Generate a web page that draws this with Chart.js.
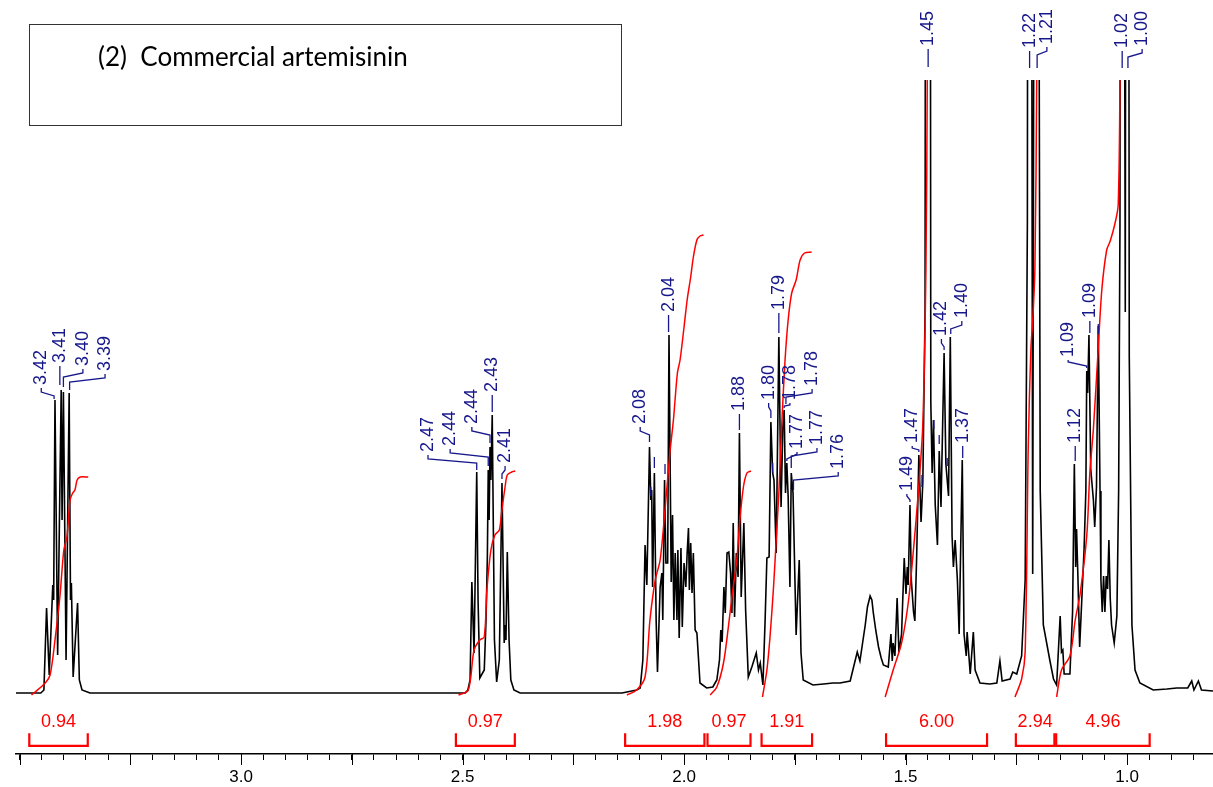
<!DOCTYPE html>
<html><head><meta charset="utf-8">
<script src="https://cdn.jsdelivr.net/npm/chart.js@4/dist/chart.umd.min.js"></script>
<style>html,body{margin:0;padding:0;background:#fff;}canvas{display:block;}</style>
</head><body>
<canvas id="c" width="1213" height="787"></canvas>
<script>
// ---------- DATA ----------
// 1H NMR spectrum: chemical shift (ppm) and intensity (arbitrary units)
const specPpm = [3.508,3.476,3.452,3.445,3.439,3.433,3.425,3.423,3.420,3.414,3.406,3.404,3.401,3.395,3.388,3.385,3.383,3.379,3.369,3.365,3.359,3.341,
3.200,3.000,2.800,2.600,2.510,
2.494,2.488,2.483,2.479,2.474,2.468,2.465,2.461,2.451,2.447,2.444,2.442,2.440,2.438,2.436,2.433,2.428,2.423,2.417,2.411,2.406,2.403,2.402,2.399,2.395,2.391,2.384,2.370,
2.250,2.140,
2.129,2.107,2.099,2.093,2.088,2.084,2.078,2.075,2.073,2.071,2.067,2.063,2.060,2.054,2.050,2.048,2.044,2.041,2.037,2.034,2.029,2.026,2.023,2.020,2.016,2.014,2.011,2.007,2.004,2.000,1.996,1.993,1.990,1.988,1.985,1.982,1.979,1.975,1.971,1.964,1.949,1.935,
1.930,1.926,1.920,1.917,1.914,1.910,1.907,1.903,1.899,1.895,1.892,1.889,1.886,1.882,1.878,1.875,1.871,1.865,1.861,1.855,1.847,1.842,1.837,1.832,1.828,1.822,
1.817,1.813,1.808,1.804,1.800,1.797,1.792,1.786,1.781,1.777,1.774,1.771,1.768,1.765,1.761,1.758,1.754,1.747,1.740,1.736,1.731,1.709,1.685,1.664,1.648,
1.625,1.614,1.609,1.603,1.597,1.591,1.586,1.580,1.576,1.573,1.567,1.561,1.555,1.550,1.539,1.533,1.530,1.528,1.524,1.519,1.515,1.509,1.503,1.499,1.496,1.494,1.490,1.487,1.482,1.479,1.475,1.470,1.465,1.461,1.456,1.453,1.446,1.443,1.440,1.437,1.433,1.428,1.424,1.420,1.413,1.409,1.403,1.399,1.395,1.392,1.388,1.383,1.379,1.372,1.368,1.363,1.361,1.354,1.347,1.343,1.332,1.310,1.294,1.287,1.282,1.264,1.258,1.249,1.238,1.230,1.225,1.223,1.218,1.213,1.207,1.203,1.196,1.189,1.174,
1.166,1.159,1.151,1.148,1.145,1.142,1.129,1.123,1.119,1.116,1.114,1.111,1.107,1.102,1.097,1.093,1.091,1.089,1.086,1.082,1.076,1.073,1.069,1.065,1.061,1.059,1.056,1.053,1.050,1.047,1.044,1.041,1.038,1.035,1.029,1.023,1.019,1.016,1.014,1.010,1.004,1.001,0.998,0.995,0.989,0.982,0.971,0.941,0.910,0.888,0.863,0.854,0.849,0.839,0.832,0.806];
const specInt = [0,0,0,3,85,18,108,93,293,38,303,173,301,33,300,93,110,16,90,13,3,0,
0,0,0,0,0,
0,3,13,111,40,221,93,15,23,73,136,223,173,246,213,278,53,11,33,210,50,68,53,141,53,13,3,0,
0,0,
1,3,5,33,148,108,246,193,203,106,220,73,21,106,120,73,213,130,130,358,111,178,73,140,73,143,55,145,66,130,106,140,165,103,150,100,140,63,60,10,5,6,
10,13,33,63,51,106,80,140,141,120,80,170,76,140,116,260,96,170,83,16,26,33,40,23,30,8,
73,135,136,271,220,213,140,356,186,266,283,200,230,196,106,220,200,58,133,40,13,8,9,10,10,
12,32,41,32,50,68,86,97,93,81,62,46,35,28,26,59,32,50,37,95,41,59,135,99,126,108,188,113,81,72,135,238,171,211,381,1800,1800,291,220,273,188,148,242,186,340,229,197,356,157,126,153,113,59,233,59,37,61,19,61,23,10,9,10,32,12,14,21,19,37,113,470,1500,1500,119,1500,1500,202,68,32,
14,8,77,41,43,19,19,81,229,126,164,117,46,95,144,202,322,300,358,224,193,166,206,367,202,113,81,117,81,117,104,153,95,68,50,77,202,470,1600,1600,381,1600,1600,336,68,23,10,3,4,5,5,12,3,12,3,2];

// Integral curves (ppm, cumulative height)
const integralPpm = [
 [3.473,3.442,3.431,3.420,3.409,3.400,3.393,3.386,3.380,3.375,3.370,3.363,3.345],
 [2.509,2.487,2.474,2.461,2.451,2.445,2.436,2.427,2.417,2.412,2.404,2.399,2.389,2.381],
 [2.129,2.107,2.088,2.077,2.065,2.054,2.043,2.032,2.024,2.015,2.009,2.000,1.993,1.985,1.979,1.971,1.964,1.956],
 [1.941,1.926,1.911,1.900,1.892,1.881,1.874,1.866,1.858,1.849],
 [1.823,1.813,1.806,1.798,1.792,1.786,1.779,1.772,1.765,1.757,1.747,1.738,1.728,1.712],
 [1.546,1.528,1.509,1.494,1.482,1.471,1.461,1.454,1.451,1.448],
 [1.253,1.238,1.230,1.223,1.217,1.213,1.208,1.204,1.202],
 [1.159,1.148,1.129,1.117,1.106,1.091,1.084,1.076,1.065,1.057,1.046,1.038,1.027,1.020,1.016,1.014]
];
const integralVal = [
 [-2,10,18,53,96,143,156,193,200,203,213,216,216],
 [-2,3,43,53,56,103,143,158,163,180,206,218,221,222],
 [-2,3,16,73,113,133,183,240,273,320,333,366,393,416,436,453,457,458],
 [-2,6,30,66,96,133,173,206,220,222],
 [-4,23,56,106,153,200,273,333,373,400,413,433,440,441],
 [-4,23,50,90,144,202,269,425,613,900],
 [-4,14,41,247,345,372,425,613,900],
 [-4,23,37,73,99,157,220,264,345,403,443,452,470,488,613,900]
];

// Integration ranges and values
const bracketFrom = [3.478,2.515,2.133,1.947,1.825,1.544,1.251,1.160];
const bracketTo   = [3.346,2.382,1.954,1.850,1.711,1.316,1.164,0.949];
const bracketText = ['0.94','0.97','1.98','0.97','1.91','6.00','2.94','4.96'];

// Peak picking labels
const peakLabelText = ['3.42','3.41','3.40','3.39','2.47','2.44','2.44','2.43','2.41','2.08','2.04','1.88','1.80','1.79','1.78','1.78','1.77','1.77','1.76','1.49','1.47','1.45','1.42','1.40','1.37','1.22','1.21','1.12','1.09','1.09','1.02','1.00'];
const peakLabelPpm  = [3.422,3.406,3.401,3.387,2.468,2.442,2.438,2.433,2.411,2.078,2.035,1.875,1.804,1.786,1.774,1.770,1.768,1.758,1.753,1.490,1.470,1.449,1.413,1.398,1.371,1.220,1.203,1.117,1.091,1.084,1.011,0.998];
// unlabeled picked-peak marks (ppm)
const peakMarkPpm = [2.075,2.067,2.043,1.800,1.463,1.436,1.424,1.406,1.065];

// Axis tick labels
const tickLabelValues = [3.0,2.5,2.0,1.5,1.0];
const tickLabelText   = ['3.0','2.5','2.0','1.5','1.0'];

// ---------- LAYOUT (not data) ----------
const X_MIN = 0.806, X_MAX = 3.508, Y_MIN = -61, Y_MAX = 613;
const labelColPpm = [3.451,3.409,3.357,3.307,2.578,2.528,2.479,2.433,2.404,2.099,2.035,1.875,1.809,1.786,1.761,1.711,1.745,1.700,1.652,1.497,1.485,1.449,1.419,1.373,1.371,1.220,1.181,1.117,1.133,1.084,1.011,0.966];
const labelBottom = [308,330,327,322,241,247,269,301,230,269,381,282,293,383,293,307,244,248,224,202,250,647,357,375,250,645,649,250,336,375,645,647];
const labelEnd    = [294,308,306,303,223,227,250,281,214,251,361,263,275,360,285,289,232,225,203,191,241,626,343,359,235,625,625,232,325,360,625,625];
const peakMarkTop = [206,236,229,230,218,273,258,235,369];
const peakMarkBot = [197,225,219,220,206,264,249,227,359];
const BR_LINE = -52.8, BR_TICK = -40.3, BR_LABEL = -28.7;

const BLUE = '#17178c', RED = '#ff0000';
const NUMFONT = '"Liberation Sans", Arial, sans-serif';

const minorTicks = [];
for (let k = 17; k <= 70; k++) minorTicks.push(Math.round(k * 5) / 100);
const mediumTicks = minorTicks.filter(v => Math.abs(v * 4 - Math.round(v * 4)) < 1e-6);

const datasets = [];
datasets.push({
  label: 'spectrum', order: 3,
  data: specPpm.map((p, i) => ({ x: p, y: specInt[i] })),
  borderColor: '#000', borderWidth: 1.6, pointRadius: 0, tension: 0, fill: false
});
integralPpm.forEach((arr, j) => datasets.push({
  label: 'integral' + (j + 1), order: 2,
  data: arr.map((p, i) => ({ x: p, y: integralVal[j][i] })),
  borderColor: RED, borderWidth: 1.5, pointRadius: 0, tension: 0.3, fill: false
}));
bracketFrom.forEach((f, j) => datasets.push({
  label: 'range' + (j + 1), order: 1,
  data: [{ x: f, y: BR_TICK }, { x: f, y: BR_LINE }, { x: bracketTo[j], y: BR_LINE }, { x: bracketTo[j], y: BR_TICK }],
  borderColor: RED, borderWidth: 2.2, pointRadius: 0, tension: 0, fill: false
}));

const overlay = {
  id: 'overlay',
  afterDraw(chart) {
    const ctx = chart.ctx, xs = chart.scales.x, ys = chart.scales.y;
    const axisY = chart.chartArea.bottom;
    ctx.save();
    ctx.strokeStyle = '#000'; ctx.lineWidth = 1;
    mediumTicks.forEach(v => {
      const px = Math.round(xs.getPixelForValue(v)) + 0.5;
      ctx.beginPath(); ctx.moveTo(px, axisY); ctx.lineTo(px, axisY + 11); ctx.stroke();
    });
    ctx.fillStyle = RED; ctx.font = '18px ' + NUMFONT; ctx.textAlign = 'center'; ctx.textBaseline = 'middle';
    bracketText.forEach((t, i) => {
      const cx = (xs.getPixelForValue(bracketFrom[i]) + xs.getPixelForValue(bracketTo[i])) / 2;
      ctx.fillText(t, cx, ys.getPixelForValue(BR_LABEL));
    });
    ctx.fillStyle = BLUE; ctx.strokeStyle = BLUE; ctx.lineWidth = 1.3;
    ctx.font = '18px ' + NUMFONT;
    peakLabelText.forEach((t, i) => {
      const tx = xs.getPixelForValue(labelColPpm[i]);
      const by = ys.getPixelForValue(labelBottom[i]);
      const px = xs.getPixelForValue(peakLabelPpm[i]);
      const ey = ys.getPixelForValue(labelEnd[i]);
      ctx.save(); ctx.translate(tx, by); ctx.rotate(-Math.PI / 2);
      ctx.textAlign = 'left'; ctx.textBaseline = 'middle'; ctx.fillText(t, 0, 0); ctx.restore();
      ctx.beginPath();
      if (Math.abs(tx - px) < 1.5) { ctx.moveTo(tx, by + 3); ctx.lineTo(tx, ey); }
      else if (ey - by < 13) { ctx.moveTo(tx, by + 3); ctx.lineTo(tx, by + 5); ctx.lineTo(px, ey - 2); ctx.lineTo(px, ey); }
      else { ctx.moveTo(tx, by + 3); ctx.lineTo(tx, by + 7); ctx.lineTo(px, by + 11); ctx.lineTo(px, ey); }
      ctx.stroke();
    });
    peakMarkPpm.forEach((p, i) => {
      const px = xs.getPixelForValue(p);
      ctx.beginPath(); ctx.moveTo(px, ys.getPixelForValue(peakMarkTop[i])); ctx.lineTo(px, ys.getPixelForValue(peakMarkBot[i])); ctx.stroke();
    });
    ctx.strokeStyle = '#333'; ctx.lineWidth = 1;
    ctx.strokeRect(29.5, 24.5, 592, 101);
    ctx.fillStyle = '#000'; ctx.font = '26px Lato, "Open Sans", sans-serif';
    ctx.textAlign = 'left'; ctx.textBaseline = 'alphabetic';
    ctx.fillText('(2)  Commercial artemisinin', 98, 66, 331);
    ctx.restore();
  }
};

new Chart(document.getElementById('c'), {
  type: 'line',
  data: { datasets },
  options: {
    responsive: false, animation: false, devicePixelRatio: 1, events: [],
    layout: { padding: { left: 16, top: 80, right: 0, bottom: 0 } },
    plugins: { legend: { display: false }, tooltip: { enabled: false }, title: { display: false } },
    scales: {
      x: {
        type: 'linear', reverse: true, min: X_MIN, max: X_MAX, position: 'bottom',
        afterBuildTicks: s => { s.ticks = minorTicks.map(v => ({ value: v })); },
        afterFit: s => { s.height = 33; },
        ticks: {
          autoSkip: false, maxRotation: 0, minRotation: 0, padding: 7, color: '#000',
          font: { family: NUMFONT, size: 17 },
          callback: v => { const i = tickLabelValues.findIndex(t => Math.abs(t - v) < 1e-6); return i >= 0 ? tickLabelText[i] : ''; }
        },
        grid: { drawOnChartArea: false, drawTicks: true, tickLength: 6, color: '#000', lineWidth: 1 },
        border: { display: true, color: '#000', width: 1.5 }
      },
      y: { type: 'linear', display: false, min: Y_MIN, max: Y_MAX }
    }
  },
  plugins: [overlay]
});
</script>
</body></html>
